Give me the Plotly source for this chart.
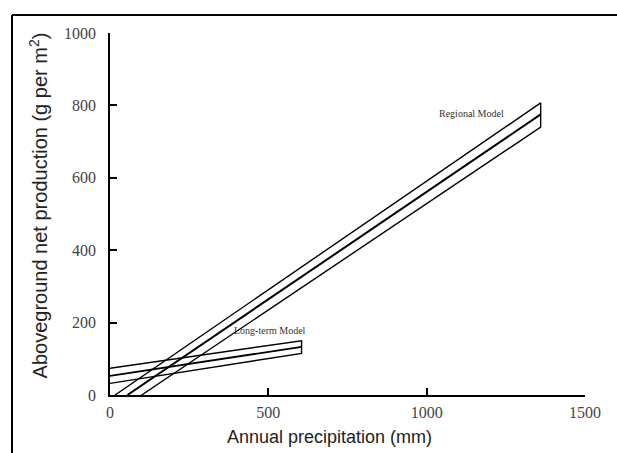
import plotly.graph_objects as go

# Regional Model band: upper bound, fitted line, lower bound
regional_x_end = 1360
regional_upper_x0, regional_upper_yend = 16, 807
regional_mid_x0, regional_mid_yend = 55, 775
regional_lower_x0, regional_lower_yend = 100, 740

# Long-term Model band
longterm_x_end = 605
longterm_upper = [74, 150]
longterm_mid = [53, 133]
longterm_lower = [32, 115]

x_ticks = [0, 500, 1000, 1500]
y_ticks = [0, 200, 400, 600, 800, 1000]

fig = go.Figure()
line = dict(color="black", width=1.4)

fig.add_trace(go.Scatter(
    x=[regional_upper_x0, regional_x_end, regional_x_end, regional_lower_x0],
    y=[0, regional_upper_yend, regional_lower_yend, 0],
    mode="lines", line=line, showlegend=False, hoverinfo="skip"))
fig.add_trace(go.Scatter(
    x=[regional_mid_x0, regional_x_end], y=[0, regional_mid_yend],
    mode="lines", line=dict(color="black", width=2.0), showlegend=False, hoverinfo="skip"))

fig.add_trace(go.Scatter(
    x=[0, longterm_x_end, longterm_x_end, 0],
    y=[longterm_upper[0], longterm_upper[1], longterm_lower[1], longterm_lower[0]],
    mode="lines", line=line, showlegend=False, hoverinfo="skip"))
fig.add_trace(go.Scatter(
    x=[0, longterm_x_end], y=longterm_mid,
    mode="lines", line=dict(color="black", width=1.8), showlegend=False, hoverinfo="skip"))

serif = "Liberation Serif, Times New Roman, serif"
sans = "Liberation Sans, Arial, sans-serif"

fig.add_annotation(x=1143, y=779, text="Regional Model", showarrow=False,
                   font=dict(family=serif, size=10, color="#333"))
fig.add_annotation(x=505, y=177, text="Long-term Model", showarrow=False,
                   font=dict(family=serif, size=10, color="#333"))

# Axis titles
fig.add_annotation(xref="paper", yref="paper", x=0.462, y=-0.116, yanchor="middle",
                   text="Annual precipitation (mm)", showarrow=False,
                   font=dict(family=sans, size=18, color="#222"))
fig.add_annotation(xref="paper", yref="paper", x=-0.150, y=0.523, xanchor="center",
                   text="Aboveground net production (g per m<sup>2</sup>)", textangle=-90,
                   showarrow=False, font=dict(family=sans, size=20, color="#222"))

# Outer frame (scan border): top and left lines
fig.add_shape(type="line", xref="paper", yref="paper", x0=-0.2063, x1=1.08,
              y0=1.0497, y1=1.0497, line=dict(color="black", width=2))
fig.add_shape(type="line", xref="paper", yref="paper", x0=-0.2063, x1=-0.2063,
              y0=1.0497, y1=-0.17, line=dict(color="black", width=2))

axis_common = dict(ticks="inside", ticklen=7, tickcolor="black", tickwidth=1.5,
                   showline=True, linecolor="black", linewidth=1.6, showgrid=False,
                   zeroline=False, tickfont=dict(family=serif, size=16, color="#444"))
fig.update_xaxes(range=[0, 1500], tickvals=x_ticks, ticklabelstandoff=2, **axis_common)
fig.update_yaxes(range=[0, 1000], tickvals=y_ticks, ticklabelstandoff=9, **axis_common)

fig.update_layout(width=617, height=453, margin=dict(l=110, r=32, t=33, b=58),
                  plot_bgcolor="white", paper_bgcolor="white")

fig.write_html("out.html")
